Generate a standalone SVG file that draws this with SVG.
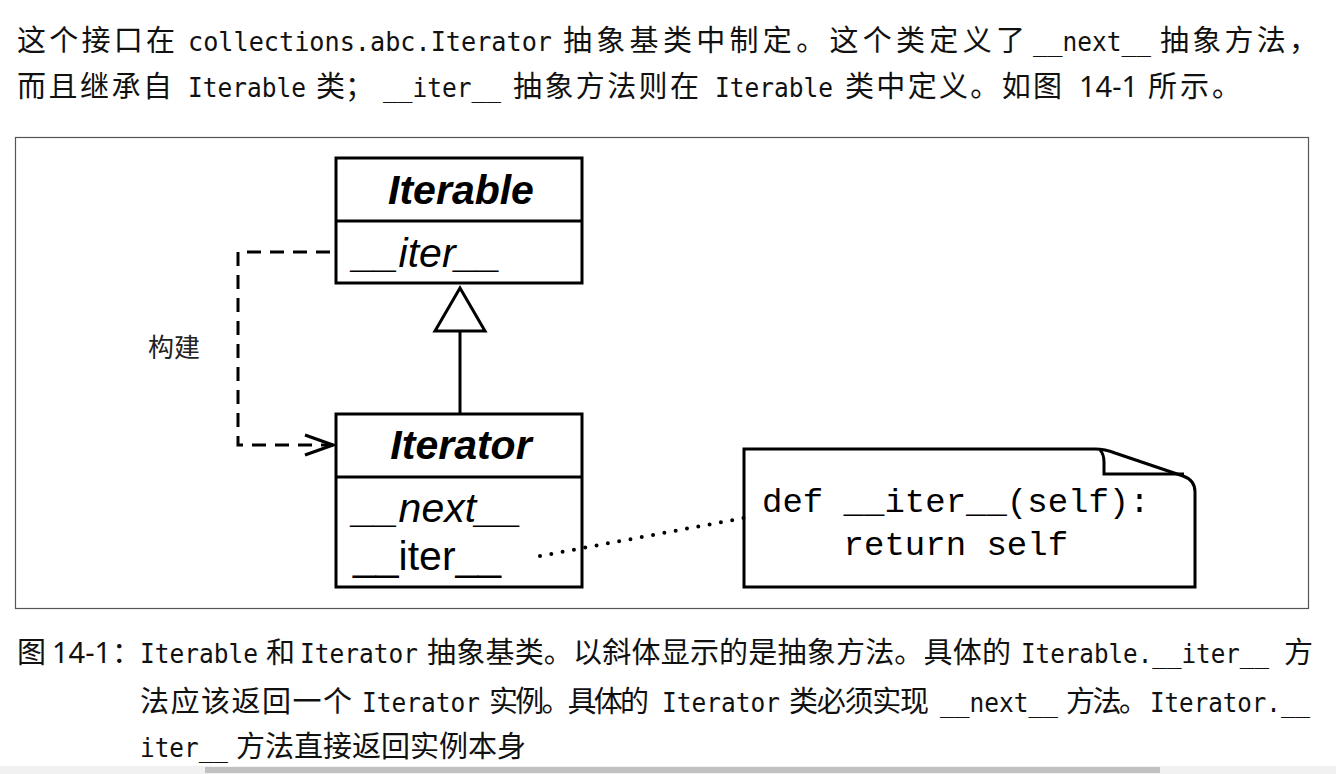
<svg xmlns="http://www.w3.org/2000/svg" width="1336" height="774" viewBox="0 0 1336 774">
<style>
.cj{font-family:"Noto Sans CJK SC","Noto Sans",sans-serif;font-size:29px;fill:#111}
.mo{font-family:"DejaVu Sans Mono","Liberation Mono",monospace;font-size:26px;fill:#111}
.nu{font-family:"Noto Sans","Liberation Sans",sans-serif;font-size:29px;fill:#111}
.ttl{font-family:"Liberation Sans",Arial,sans-serif;font-size:41px;font-weight:bold;font-style:italic;fill:#000}
.mth{font-family:"Liberation Sans",Arial,sans-serif;font-size:41px;fill:#000}
.code{font-family:"Liberation Mono","Courier New",monospace;font-size:34px;fill:#000}
.box{fill:#fff;stroke:#000;stroke-width:3}
.ln{fill:none;stroke:#000;stroke-width:3}
</style>
<defs>
<marker id="open" viewBox="0 0 32 24" refX="30" refY="12" markerWidth="32" markerHeight="24" markerUnits="userSpaceOnUse" orient="auto">
<path d="M2,2 L30,12 L2,22" fill="none" stroke="#000" stroke-width="3"/>
</marker>
</defs>
<rect width="1336" height="774" fill="#fff"/>

<g id="paragraph">
<text class="cj" x="17" y="51" textLength="158" lengthAdjust="spacing">这个接口在</text>
<text class="mo" x="188" y="51" textLength="364" lengthAdjust="spacingAndGlyphs">collections.abc.Iterator</text>
<text class="cj" x="563" y="51" textLength="462" lengthAdjust="spacing">抽象基类中制定。这个类定义了</text>
<text class="mo" x="1033" y="51" textLength="118" lengthAdjust="spacingAndGlyphs">__next__</text>
<text class="cj" x="1160" y="51" textLength="158" lengthAdjust="spacing">抽象方法，</text>
<text class="cj" x="17" y="97" textLength="155" lengthAdjust="spacing">而且继承自</text>
<text class="mo" x="188" y="97" textLength="118" lengthAdjust="spacingAndGlyphs">Iterable</text>
<text class="cj" x="316" y="97" textLength="58" lengthAdjust="spacing">类；</text>
<text class="mo" x="383" y="97" textLength="118" lengthAdjust="spacingAndGlyphs">__iter__</text>
<text class="cj" x="513" y="97" textLength="186" lengthAdjust="spacing">抽象方法则在</text>
<text class="mo" x="715" y="97" textLength="118" lengthAdjust="spacingAndGlyphs">Iterable</text>
<text class="cj" x="845" y="97" textLength="217" lengthAdjust="spacing">类中定义。如图</text>
<text class="nu" x="1079" y="97">14-1</text>
<text class="cj" x="1148" y="97" textLength="93" lengthAdjust="spacing">所示。</text>
</g>

<rect x="15.5" y="137.5" width="1293" height="471" fill="none" stroke="#555" stroke-width="1.2"/>

<g id="label-build">
<text x="148" y="357" font-family="Noto Sans CJK SC,sans-serif" font-size="26" fill="#222">构建</text>
</g>

<g id="Iterable">
<rect class="box" x="336" y="158" width="246" height="125"/>
<line class="ln" x1="336" y1="221" x2="582" y2="221"/>
<text class="ttl" x="461" y="204" text-anchor="middle">Iterable</text>
<text class="mth" x="353" y="267" font-style="italic">__iter__</text>
</g>

<g id="Iterator">
<rect class="box" x="336" y="414" width="246" height="173"/>
<line class="ln" x1="336" y1="477" x2="582" y2="477"/>
<text class="ttl" x="461" y="459" text-anchor="middle">Iterator</text>
<text class="mth" x="353" y="522" font-style="italic">__next__</text>
<text class="mth" x="353" y="570">__iter__</text>
</g>

<g id="note">
<path class="box" d="M744,449 H1095 Q1105,449 1115,453 L1183,476 Q1195,480 1195,492 V587 H744 Z"/>
<path class="ln" d="M1100,450 Q1104,454 1104,462 V474 H1184"/>
<text class="code" x="762" y="512">def __iter__(self):</text>
<text class="code" x="762" y="555" xml:space="preserve">    return self</text>
</g>

<g id="connectors">
<path class="ln" d="M330,252 H238 V445 H333" stroke-dasharray="14 9" marker-end="url(#open)"/>
<line class="ln" x1="460" y1="331" x2="460" y2="414"/>
<polygon points="460,288 435,331 485,331" fill="#fff" stroke="#000" stroke-width="3" stroke-linejoin="miter"/>
<line x1="540" y1="556" x2="744" y2="518" stroke="#000" stroke-width="4" stroke-linecap="round" stroke-dasharray="0 11.5"/>
</g>

<g id="caption">
<text class="cj" x="17" y="663">图</text>
<text class="nu" x="52" y="663" font-size="28">14-1</text>
<text class="cj" x="112" y="663">：</text>
<text class="mo" x="140" y="663" textLength="118" lengthAdjust="spacingAndGlyphs">Iterable</text>
<text class="cj" x="266" y="663">和</text>
<text class="mo" x="300" y="663" textLength="118" lengthAdjust="spacingAndGlyphs">Iterator</text>
<text class="cj" x="427" y="663" textLength="584" lengthAdjust="spacing">抽象基类。以斜体显示的是抽象方法。具体的</text>
<text class="mo" x="1021" y="663" font-size="24" textLength="248" lengthAdjust="spacingAndGlyphs">Iterable.__iter__</text>
<text class="cj" x="1284" y="663">方</text>
<text class="cj" x="140" y="712" textLength="212" lengthAdjust="spacing">法应该返回一个</text>
<text class="mo" x="362" y="712" textLength="118" lengthAdjust="spacingAndGlyphs">Iterator</text>
<text class="cj" x="489" y="712" textLength="160" lengthAdjust="spacing">实例。具体的</text>
<text class="mo" x="662" y="712" textLength="118" lengthAdjust="spacingAndGlyphs">Iterator</text>
<text class="cj" x="789" y="712" textLength="140" lengthAdjust="spacing">类必须实现</text>
<text class="mo" x="940" y="712" textLength="118" lengthAdjust="spacingAndGlyphs">__next__</text>
<text class="cj" x="1066" y="712" textLength="82" lengthAdjust="spacing">方法。</text>
<text class="mo" x="1150" y="712" textLength="160" lengthAdjust="spacingAndGlyphs">Iterator.__</text>
<text class="mo" x="140" y="757" textLength="88" lengthAdjust="spacingAndGlyphs">iter__</text>
<text class="cj" x="236" y="757" textLength="290" lengthAdjust="spacing">方法直接返回实例本身</text>
</g>

<rect x="0" y="766" width="1336" height="8" fill="#f1f1f1"/>
<rect x="205" y="767" width="955" height="6" fill="#c1c1c1"/>
</svg>
